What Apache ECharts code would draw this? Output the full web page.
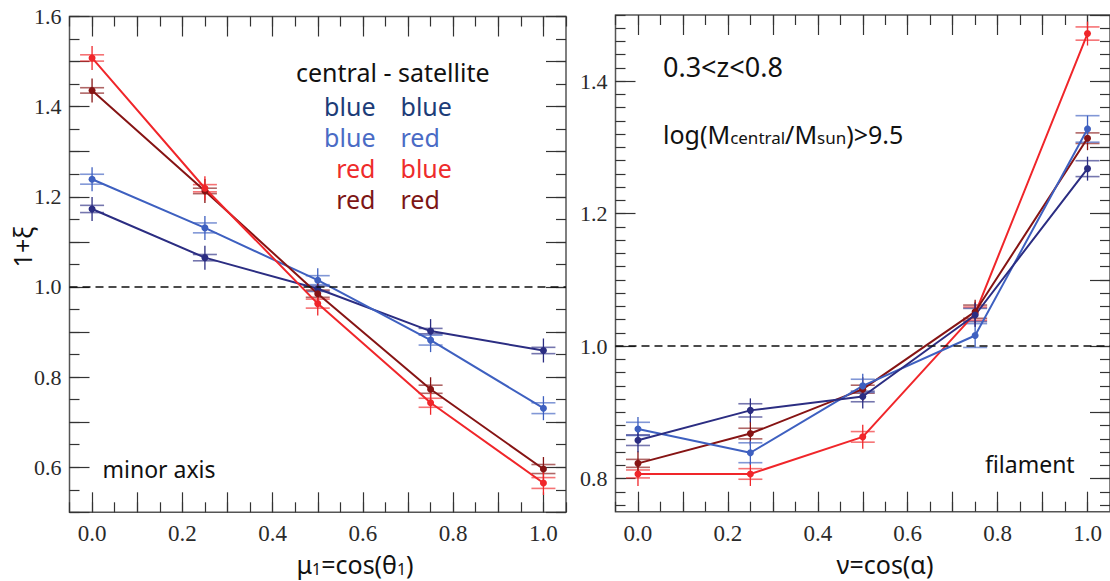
<!DOCTYPE html>
<html><head><meta charset="utf-8">
<script src="https://cdn.jsdelivr.net/npm/echarts@6/dist/echarts.min.js"></script>
<style>html,body{margin:0;padding:0;background:#fff}#c{width:1110px;height:581px}</style>
</head><body><div id="c"></div>
<script>
// ---------- data ----------
const cosBins = [0, 0.25, 0.5, 0.75, 1.0];

// left panel: minor axis, x = mu1 = cos(theta1)
const minorBlueBlue = [1.173, 1.065, 0.996, 0.902, 0.859];
const minorBlueRed  = [1.239, 1.131, 1.015, 0.882, 0.731];
const minorRedBlue  = [1.508, 1.219, 0.963, 0.743, 0.565];
const minorRedRed   = [1.436, 1.213, 0.985, 0.773, 0.596];
const minorBlueBlueErr = [0.008, 0.007, 0.006, 0.006, 0.007];
const minorBlueRedErr  = [0.011, 0.011, 0.010, 0.011, 0.012];
const minorRedBlueErr  = [0.007, 0.008, 0.010, 0.010, 0.012];
const minorRedRedErr   = [0.006, 0.006, 0.008, 0.009, 0.010];

// right panel: filament, x = nu = cos(alpha)
const filBlueBlue = [0.858, 0.903, 0.924, 1.047, 1.268];
const filBlueRed  = [0.875, 0.839, 0.940, 1.016, 1.328];
const filRedBlue  = [0.807, 0.807, 0.863, 1.049, 1.472];
const filRedRed   = [0.823, 0.868, 0.935, 1.052, 1.314];
const filBlueBlueErr = [0.008, 0.010, 0.008, 0.010, 0.012];
const filBlueRedErr  = [0.010, 0.015, 0.010, 0.018, 0.020];
const filRedBlueErr  = [0.006, 0.008, 0.008, 0.010, 0.010];
const filRedRedErr   = [0.006, 0.008, 0.006, 0.010, 0.008];

// tick labels
const xTickLabels = ['0.0', '0.2', '0.4', '0.6', '0.8', '1.0'];
const leftYTickLabels = ['0.6', '0.8', '1.0', '1.2', '1.4', '1.6'];
const rightYTickLabels = ['0.8', '1.0', '1.2', '1.4'];

// axis extents
const xRange = [-0.05, 1.05];
const leftYRange = [0.5, 1.6];
const rightYRange = [0.75, 1.5];

// ---------- colours ----------
const cBlueBlue = '#2b2d82';
const cBlueRed  = '#3e60c0';
const cRedBlue  = '#f0262a';
const cRedRed   = '#861414';

// ---------- helpers ----------
function hundredths(a, b, step) { const r = []; for (let i = a; i <= b; i += step) r.push(i); return r; }
function isLabel(list) { return (idx, val) => list.some(l => Math.abs(Number(l) - Number(val)) < 1e-6); }
function everyHundredths(cats, n) { return (idx) => Math.round(cats[idx]) % n === 0; }

function ruler(gridIndex, position, ints, tickFn, len, labelFn, isX) {
  const cats = ints.map(i => (i / 100).toFixed(2));
  return {
    type: 'category', gridIndex, position, data: cats, boundaryGap: false,
    axisLine: { show: false, onZero: false },
    axisTick: { show: true, inside: true, length: len, interval: tickFn, lineStyle: { color: '#333', width: 1.2 } },
    axisLabel: labelFn ? {
      show: true, interval: labelFn, formatter: v => Number(v).toFixed(1),
      fontFamily: 'Liberation Serif', fontSize: isX ? 23 : 22, color: '#2a2a2a', margin: isX ? 10 : 8
    } : { show: false },
    splitLine: { show: false }, silent: true
  };
}

const grids = [], xAxes = [], yAxes = [], series = [];

function addPanel(rect, cfg) {
  const gA = grids.length; grids.push(Object.assign({}, rect, { show: true, borderColor: '#555', borderWidth: 1.5, backgroundColor: 'transparent' }));
  const gB = grids.length; grids.push(Object.assign({}, rect, { show: false }));
  const gC = grids.length; grids.push(Object.assign({}, rect, { show: false }));
  const xi = xAxes.length;
  xAxes.push({ type: 'value', gridIndex: gA, min: cfg.xRange[0], max: cfg.xRange[1], show: false, axisLine: { onZero: false } });
  const yi = yAxes.length;
  yAxes.push({ type: 'value', gridIndex: gA, min: cfg.yRange[0], max: cfg.yRange[1], show: false, axisLine: { onZero: false } });
  xAxes.push(ruler(gB, 'bottom', cfg.xInts, everyHundredths(cfg.xInts, cfg.xLong), 20, isLabel(cfg.xLabels), true));
  xAxes.push(ruler(gB, 'top', cfg.xInts, everyHundredths(cfg.xInts, cfg.xLong), 20, null, true));
  xAxes.push(ruler(gC, 'bottom', cfg.xInts, everyHundredths(cfg.xInts, cfg.xShort), 10, null, true));
  xAxes.push(ruler(gC, 'top', cfg.xInts, everyHundredths(cfg.xInts, cfg.xShort), 10, null, true));
  yAxes.push(ruler(gB, 'left', cfg.yInts, everyHundredths(cfg.yInts, cfg.yLongL), 20, isLabel(cfg.yLabels), false));
  yAxes.push(ruler(gB, 'right', cfg.yInts, everyHundredths(cfg.yInts, cfg.yLongR), 20, null, false));
  yAxes.push(ruler(gC, 'left', cfg.yInts, everyHundredths(cfg.yInts, cfg.yShort), 10, null, false));
  yAxes.push(ruler(gC, 'right', cfg.yInts, everyHundredths(cfg.yInts, cfg.yShort), 10, null, false));
  return { xi, yi };
}

function renderErr(params, api) {
  const x = api.value(0), y = api.value(1), e = api.value(2);
  const c = api.coord([x, y]);
  const t = api.coord([x, y + e]);
  const b = api.coord([x, y - e]);
  const color = api.visual('color');
  const hw = 12;
  return {
    type: 'group', children: [
      { type: 'line', shape: { x1: c[0], y1: Math.min(t[1], c[1] - 12), x2: c[0], y2: Math.max(b[1], c[1] + 12) }, style: { stroke: color, lineWidth: 1.3 } },
      { type: 'line', shape: { x1: c[0] - hw, y1: t[1], x2: c[0] + hw, y2: t[1] }, style: { stroke: color, lineWidth: 1.6, opacity: 0.65 } },
      { type: 'line', shape: { x1: c[0] - hw, y1: b[1], x2: c[0] + hw, y2: b[1] }, style: { stroke: color, lineWidth: 1.6, opacity: 0.65 } }
    ]
  };
}

function addSeries(ax, xs, ys, errs, color, withRef) {
  series.push({
    type: 'custom', xAxisIndex: ax.xi, yAxisIndex: ax.yi, renderItem: renderErr,
    data: xs.map((x, i) => [x, ys[i], errs[i]]), encode: { x: 0, y: 1 },
    itemStyle: { color }, z: 2, silent: true, clip: false
  });
  const s = {
    type: 'line', xAxisIndex: ax.xi, yAxisIndex: ax.yi,
    data: xs.map((x, i) => [x, ys[i]]), symbol: 'circle', symbolSize: 7, showSymbol: true,
    itemStyle: { color }, lineStyle: { color, width: 2 }, z: 3, silent: true
  };
  if (withRef) {
    s.markLine = {
      silent: true, symbol: ['none', 'none'], label: { show: false },
      lineStyle: { color: '#111', type: [8, 5], width: 1.5 },
      data: [{ yAxis: 1.0 }]
    };
  }
  series.push(s);
}

const leftAx = addPanel({ left: 69.5, top: 16.5, width: 496.5, height: 495.8 }, {
  xRange, yRange: leftYRange,
  xInts: hundredths(-5, 105, 5), xLong: 10, xShort: 5, xLabels: xTickLabels,
  yInts: hundredths(50, 160, 5), yLongL: 10, yLongR: 10, yShort: 5, yLabels: leftYTickLabels
});
const rightAx = addPanel({ left: 615.5, top: 15, width: 495.5, height: 496.7 }, {
  xRange, yRange: rightYRange,
  xInts: hundredths(-5, 105, 5), xLong: 10, xShort: 5, xLabels: xTickLabels,
  yInts: hundredths(75, 150, 1), yLongL: 20, yLongR: 10, yShort: 2, yLabels: rightYTickLabels
});

addSeries(leftAx, cosBins, minorBlueBlue, minorBlueBlueErr, cBlueBlue, true);
addSeries(leftAx, cosBins, minorBlueRed, minorBlueRedErr, cBlueRed, false);
addSeries(leftAx, cosBins, minorRedRed, minorRedRedErr, cRedRed, false);
addSeries(leftAx, cosBins, minorRedBlue, minorRedBlueErr, cRedBlue, false);

addSeries(rightAx, cosBins, filRedBlue, filRedBlueErr, cRedBlue, true);
addSeries(rightAx, cosBins, filRedRed, filRedRedErr, cRedRed, false);
addSeries(rightAx, cosBins, filBlueRed, filBlueRedErr, cBlueRed, false);
addSeries(rightAx, cosBins, filBlueBlue, filBlueBlueErr, cBlueBlue, false);

// ---------- texts ----------
const SANS = '"Noto Sans", sans-serif';
function txt(x, y, text, size, color, align, extra) {
  return Object.assign({
    type: 'text', x, y, silent: true, z: 10,
    style: { text, fill: color, font: size + 'px ' + SANS, align: align || 'left', verticalAlign: 'middle' }
  }, extra || {});
}
const legendRows = [
  ['blue', 'blue', '#1c3c78'],
  ['blue', 'red', '#4a6bc5'],
  ['red', 'blue', '#ee2b2b'],
  ['red', 'red', '#7d1616']
];
const legendY = [106, 137, 168, 199];
const graphics = [
  txt(296, 72, 'central - satellite', 25, '#111', 'left')
];
legendRows.forEach((r, i) => {
  graphics.push(txt(375.5, legendY[i], r[0], 25, r[2], 'right'));
  graphics.push(txt(400.5, legendY[i], r[1], 25, r[2], 'left'));
});
graphics.push(txt(102.5, 469, 'minor axis', 23, '#111', 'left'));
graphics.push(txt(985, 464, 'filament', 23, '#111', 'left'));
graphics.push(txt(663, 66, '0.3<z<0.8', 27, '#111', 'left'));
graphics.push({
  type: 'text', x: 663, y: 131, silent: true, z: 10,
  style: {
    text: '{n|log(M}{s|central}{n|/M}{s|sun}{n|)>9.5}', verticalAlign: 'middle', align: 'left',
    rich: {
      n: { fontSize: 25, fontFamily: SANS, fill: '#111', lineHeight: 30, verticalAlign: 'bottom' },
      s: { fontSize: 17, fontFamily: SANS, fill: '#111', lineHeight: 24, verticalAlign: 'bottom' }
    }
  }
});
// axis titles
graphics.push({
  type: 'text', x: 355, y: 564, silent: true, z: 10,
  style: {
    text: '{n|μ}{s|1}{n|=cos(θ}{s|1}{n|)}', align: 'center', verticalAlign: 'middle',
    rich: {
      n: { fontSize: 25, fontFamily: SANS, fill: '#111', lineHeight: 26, verticalAlign: 'top' },
      s: { fontSize: 16, fontFamily: SANS, fill: '#111', lineHeight: 16, verticalAlign: 'bottom' }
    }
  }
});
graphics.push(txt(885, 564, 'ν=cos(α)', 25, '#111', 'center'));
graphics.push(txt(22, 247, '1+ξ', 25, '#111', 'center', { rotation: Math.PI / 2 }));

const chart = echarts.init(document.getElementById('c'), null, { renderer: 'svg', width: 1110, height: 581 });
chart.setOption({
  animation: false,
  backgroundColor: '#fff',
  grid: grids, xAxis: xAxes, yAxis: yAxes, series, graphic: graphics
});
</script></body></html>
